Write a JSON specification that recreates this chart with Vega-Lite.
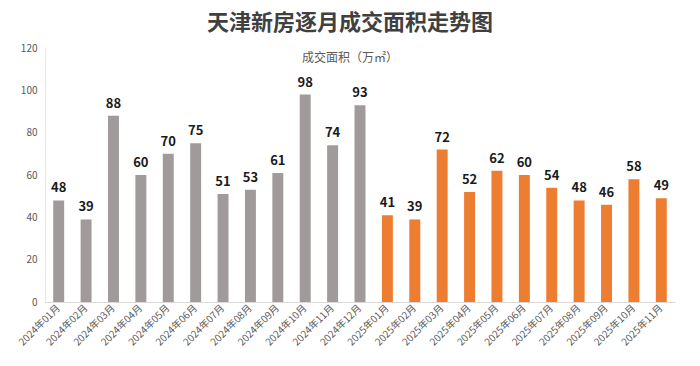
{
  "$schema": "https://vega.github.io/schema/vega-lite/v6.json",
  "autosize": "none",
  "width": 630,
  "height": 254,
  "padding": {"left": 45, "top": 48, "right": 25, "bottom": 64},
  "background": "white",
  "title": {
    "text": "天津新房逐月成交面积走势图",
    "subtitle": "成交面积（万㎡）",
    "anchor": "middle",
    "frame": "group",
    "dx": -10,
    "font": "Noto Sans CJK SC",
    "fontSize": 22,
    "fontWeight": "bold",
    "color": "#404040",
    "subtitleFont": "Noto Sans CJK SC",
    "subtitleFontSize": 12,
    "subtitleColor": "#595959",
    "subtitlePadding": 18,
    "offset": -22
  },
  "data": {
    "values": [
      {"month": "2024年01月", "year": "2024", "value": 48},
      {"month": "2024年02月", "year": "2024", "value": 39},
      {"month": "2024年03月", "year": "2024", "value": 88},
      {"month": "2024年04月", "year": "2024", "value": 60},
      {"month": "2024年05月", "year": "2024", "value": 70},
      {"month": "2024年06月", "year": "2024", "value": 75},
      {"month": "2024年07月", "year": "2024", "value": 51},
      {"month": "2024年08月", "year": "2024", "value": 53},
      {"month": "2024年09月", "year": "2024", "value": 61},
      {"month": "2024年10月", "year": "2024", "value": 98},
      {"month": "2024年11月", "year": "2024", "value": 74},
      {"month": "2024年12月", "year": "2024", "value": 93},
      {"month": "2025年01月", "year": "2025", "value": 41},
      {"month": "2025年02月", "year": "2025", "value": 39},
      {"month": "2025年03月", "year": "2025", "value": 72},
      {"month": "2025年04月", "year": "2025", "value": 52},
      {"month": "2025年05月", "year": "2025", "value": 62},
      {"month": "2025年06月", "year": "2025", "value": 60},
      {"month": "2025年07月", "year": "2025", "value": 54},
      {"month": "2025年08月", "year": "2025", "value": 48},
      {"month": "2025年09月", "year": "2025", "value": 46},
      {"month": "2025年10月", "year": "2025", "value": 58},
      {"month": "2025年11月", "year": "2025", "value": 49}
    ]
  },
  "encoding": {
    "x": {
      "field": "month",
      "type": "ordinal",
      "sort": null,
      "scale": {"paddingInner": 0.6, "paddingOuter": 0.3},
      "axis": {
        "title": null,
        "labelAngle": -45,
        "labelAlign": "right",
        "labelBaseline": "middle",
        "labelFont": "Noto Sans CJK SC",
        "labelFontSize": 10,
        "labelColor": "#595959",
        "labelPadding": 4,
        "ticks": false,
        "domainColor": "#D9D9D9",
        "domainWidth": 1
      }
    },
    "y": {
      "field": "value",
      "type": "quantitative",
      "scale": {"domain": [0, 120]},
      "axis": {
        "title": null,
        "values": [0, 20, 40, 60, 80, 100, 120],
        "grid": false,
        "ticks": false,
        "labelFont": "Noto Sans CJK SC",
        "labelFontSize": 10,
        "labelColor": "#595959",
        "labelPadding": 8,
        "domainColor": "#E6E6E6",
        "domainWidth": 1
      }
    }
  },
  "layer": [
    {
      "mark": {"type": "bar"},
      "encoding": {
        "color": {
          "field": "year",
          "type": "nominal",
          "scale": {"domain": ["2024", "2025"], "range": ["#A09B9A", "#ED7D31"]},
          "legend": null
        }
      }
    },
    {
      "mark": {
        "type": "text",
        "baseline": "bottom",
        "dy": -5,
        "font": "Noto Sans CJK SC",
        "fontSize": 13,
        "fontWeight": "bold",
        "color": "#1a1a1a"
      },
      "encoding": {"text": {"field": "value", "type": "quantitative"}}
    }
  ],
  "config": {"view": {"stroke": null}}
}
